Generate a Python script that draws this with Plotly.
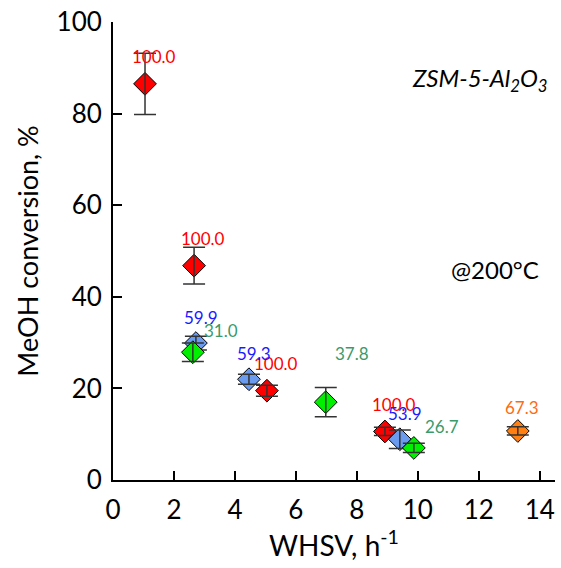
import plotly.graph_objects as go

# Catalyst series: WHSV (h^-1), MeOH conversion (%), error, selectivity label
red_x = [1.05, 2.66, 5.05, 8.92]
red_y = [86.5, 46.8, 19.5, 10.6]
red_err = [6.7, 4.0, 1.2, 0.9]
red_lbl = [100.0, 100.0, 100.0, 100.0]

blue_x = [2.72, 4.46, 9.41]
blue_y = [29.9, 22.0, 8.9]
blue_err = [1.5, 1.1, 2.0]
blue_lbl = [59.9, 59.3, 53.9]

green_x = [2.62, 6.98, 9.87]
green_y = [27.9, 17.0, 7.0]
green_err = [2.0, 3.2, 1.0]
green_lbl = [31.0, 37.8, 26.7]

orange_x = [13.28]
orange_y = [10.7]
orange_err = [0.9]
orange_lbl = [67.3]

FONT = "Lato, 'Open Sans', sans-serif"

series = [
    (red_x, red_y, red_err, red_lbl, "#FF0000", "#FF0000", [(9, 27)] * 4),
    (blue_x, blue_y, blue_err, blue_lbl, "#6A9BEF", "#1A1AFF", [(5, 26)] * 3),
    (green_x, green_y, green_err, green_lbl, "#00F000", "#3A9A6A", [(28, 22), (26, 49), (28, 21)]),
    (orange_x, orange_y, orange_err, orange_lbl, "#FF7F10", "#FF6A10", [(4, 23)]),
]

fig = go.Figure()
annotations = []
for xs, ys, es, lbls, fill, tcol, shifts in series:
    fig.add_trace(go.Scatter(
        x=xs, y=ys, mode="markers",
        marker=dict(symbol="diamond", size=17.5, color=fill,
                    line=dict(color="black", width=1)),
        showlegend=False, hoverinfo="skip"))
    # error bars drawn on top of the markers
    fig.add_trace(go.Scatter(
        x=xs, y=ys, mode="markers",
        marker=dict(size=1, color="rgba(0,0,0,0)"),
        error_y=dict(type="data", array=es, visible=True,
                     color="#333333", thickness=1.5, width=11),
        showlegend=False, hoverinfo="skip"))
    for x, y, v, (dx, dy) in zip(xs, ys, lbls, shifts):
        annotations.append(dict(
            x=x, y=y, xref="x", yref="y", text=f"{v:.1f}", showarrow=False,
            xshift=dx, yshift=dy, font=dict(family=FONT, size=17, color=tcol)))

annotations += [
    dict(x=1, y=0.875, xref="paper", yref="paper", xanchor="right", yanchor="middle",
         text="<i>ZSM-5-Al<sub>2</sub>O<sub>3</sub></i>", showarrow=False,
         xshift=-5, font=dict(family=FONT, size=24, color="black")),
    dict(x=1, y=0.46, xref="paper", yref="paper", xanchor="right", yanchor="middle",
         text="@200°C", showarrow=False, xshift=-14,
         font=dict(family=FONT, size=24, color="black")),
]

fig.update_layout(
    width=561, height=568,
    margin=dict(l=113, r=6, t=22, b=88),
    plot_bgcolor="white", paper_bgcolor="white",
    font=dict(family=FONT, size=26, color="black"),
    annotations=annotations,
    xaxis=dict(range=[0, 14.5], tickvals=[0, 2, 4, 6, 8, 10, 12, 14],
               ticks="inside", ticklen=9, tickwidth=1.5, tickcolor="black",
               showline=True, linecolor="black", linewidth=2,
               showgrid=False, zeroline=False, ticklabelstandoff=6,
               tickfont=dict(size=26),
               title=dict(text="WHSV, h<sup>-1</sup>", font=dict(size=28), standoff=4)),
    yaxis=dict(range=[0, 100], tickvals=[0, 20, 40, 60, 80, 100],
               ticks="inside", ticklen=9, tickwidth=1.5, tickcolor="black",
               showline=True, linecolor="black", linewidth=2,
               showgrid=False, zeroline=False, ticklabelstandoff=4,
               tickfont=dict(size=26),
               title=dict(text="MeOH conversion, %", font=dict(size=27), standoff=10)),
)

fig.write_html("out.html")
